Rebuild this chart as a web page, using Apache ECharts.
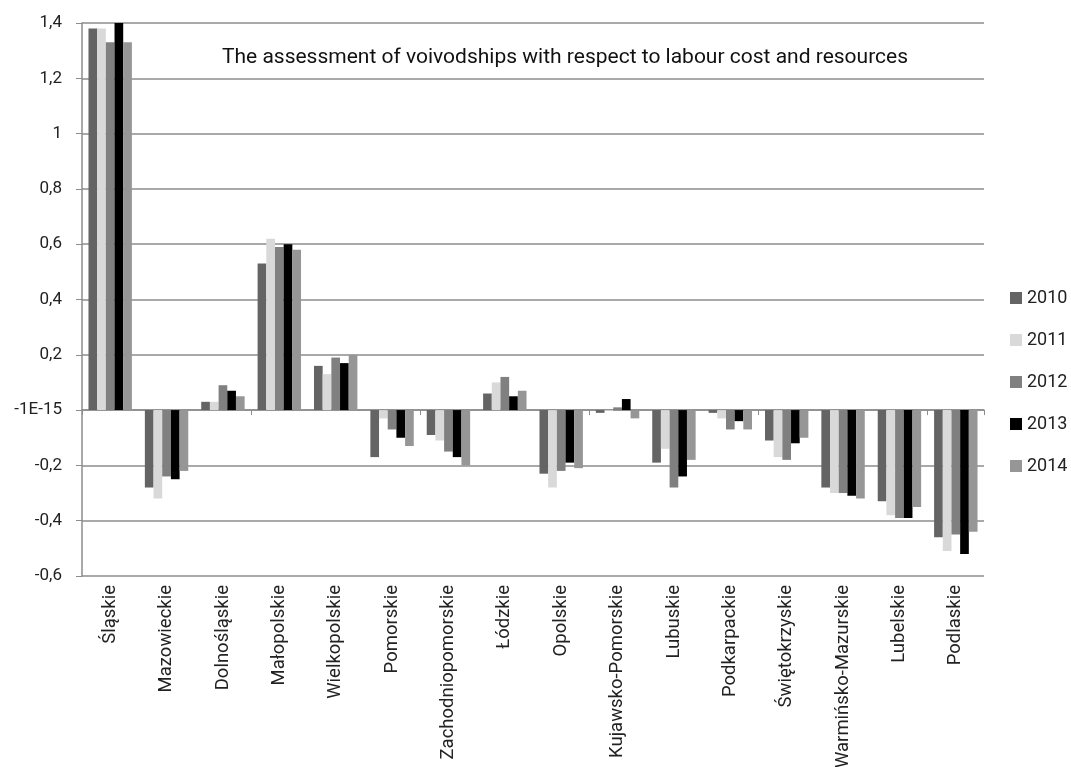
<!DOCTYPE html>
<html>
<head>
<meta charset="utf-8">
<script src="https://cdn.jsdelivr.net/npm/echarts@6/dist/echarts.min.js"></script>
<style>
  html, body { margin: 0; padding: 0; background: #fff; }
  #chart { width: 1071px; height: 767px; }
</style>
</head>
<body>
<div id="chart"></div>
<script>
const regions = ["Śląskie", "Mazowieckie", "Dolnośląskie", "Małopolskie", "Wielkopolskie", "Pomorskie",
  "Zachodniopomorskie", "Łódzkie", "Opolskie", "Kujawsko-Pomorskie", "Lubuskie", "Podkarpackie",
  "Świętokrzyskie", "Warmińsko-Mazurskie", "Lubelskie", "Podlaskie"];
const years = ["2010", "2011", "2012", "2013", "2014"];
const v2010 = [1.38, -0.28, 0.03, 0.53, 0.16, -0.17, -0.09, 0.06, -0.23, -0.01, -0.19, -0.01, -0.11, -0.28, -0.33, -0.46];
const v2011 = [1.38, -0.32, 0.03, 0.62, 0.13, -0.03, -0.11, 0.10, -0.28, -0.003, -0.14, -0.03, -0.17, -0.30, -0.38, -0.51];
const v2012 = [1.33, -0.24, 0.09, 0.59, 0.19, -0.07, -0.15, 0.12, -0.22, 0.01, -0.28, -0.07, -0.18, -0.30, -0.39, -0.45];
const v2013 = [1.40, -0.25, 0.07, 0.60, 0.17, -0.10, -0.17, 0.05, -0.19, 0.04, -0.24, -0.04, -0.12, -0.31, -0.39, -0.52];
const v2014 = [1.33, -0.22, 0.05, 0.58, 0.20, -0.13, -0.20, 0.07, -0.21, -0.03, -0.18, -0.07, -0.10, -0.32, -0.35, -0.44];
const barColors = ["#646464", "#d9d9d9", "#808080", "#000000", "#969696"];
const title = "The assessment of voivodships with respect to labour cost and resources";

const seriesValues = [v2010, v2011, v2012, v2013, v2014];
const font = "'Roboto', sans-serif";

const chart = echarts.init(document.getElementById("chart"));

// y labels like the spreadsheet: comma decimals, zero shown as -1E-15
const fmt = (v) => {
  if (Math.abs(v) < 1e-9) return "-1E-15";
  return String(Math.round(v * 10) / 10).replace(".", ",");
};

chart.setOption({
  animation: false,
  title: {
    text: title,
    left: 560,
    textAlign: "center",
    top: 42,
    textStyle: { fontFamily: font, fontSize: 21, fontWeight: "normal", color: "#111" }
  },
  legend: {
    orient: "vertical",
    left: 1010,
    top: 289,
    padding: 0,
    itemWidth: 12,
    itemHeight: 12,
    itemGap: 24,
    icon: "rect",
    data: years,
    textStyle: { fontFamily: font, fontSize: 18, color: "#222" }
  },
  grid: { left: 82, right: 87, top: 23, bottom: 191, outerBoundsMode: "none" },
  xAxis: [
    {
      type: "category",
      data: regions,
      axisLine: { onZero: true, lineStyle: { color: "#8c8c8c", width: 1.5 } },
      axisTick: { show: true, length: 5, lineStyle: { color: "#8c8c8c" } },
      axisLabel: { show: false }
    },
    {
      type: "category",
      data: regions,
      position: "bottom",
      axisLine: { show: false },
      axisTick: { show: false },
      axisLabel: {
        rotate: 90,
        margin: 9,
        fontFamily: font,
        fontSize: 18.5,
        color: "#222"
      }
    }
  ],
  yAxis: {
    type: "value",
    min: -0.6,
    max: 1.4,
    interval: 0.2,
    axisLine: { show: true, lineStyle: { color: "#8c8c8c", width: 1.5 } },
    axisTick: { show: true, length: 6, lineStyle: { color: "#8c8c8c" } },
    splitLine: { lineStyle: { color: "#8c8c8c", width: 1.5 } },
    axisLabel: { formatter: fmt, fontFamily: font, fontSize: 17, color: "#222", margin: 20 }
  },
  series: years.map((y, i) => ({
    name: y,
    type: "bar",
    xAxisIndex: 0,
    data: seriesValues[i],
    barGap: "0%",
    barCategoryGap: "23%",
    itemStyle: { color: barColors[i] }
  }))
});
</script>
</body>
</html>
